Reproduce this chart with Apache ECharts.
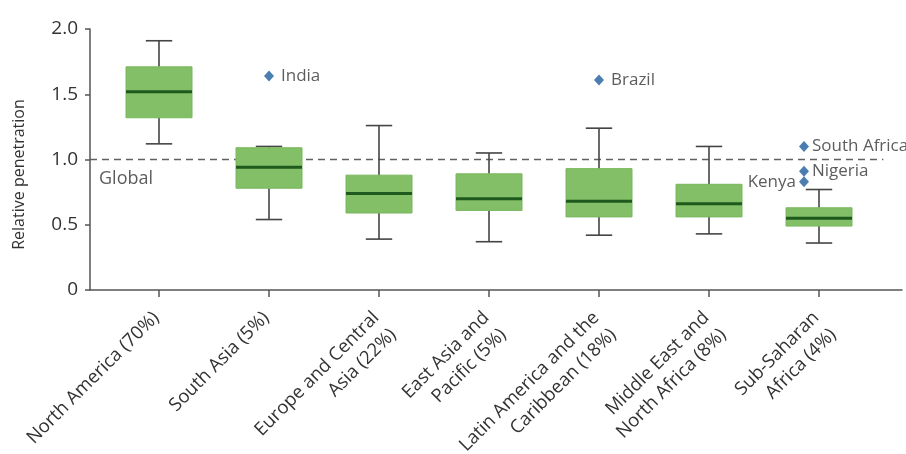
<!DOCTYPE html>
<html>
<head>
<meta charset="utf-8">
<script src="https://cdn.jsdelivr.net/npm/echarts@6/dist/echarts.min.js"></script>
<style>
  html, body { margin: 0; padding: 0; background: #ffffff; }
  #chart { width: 906px; height: 454px; }
</style>
</head>
<body>
<div id="chart"></div>
<script>
// Regions (share of population in brackets)
const regions = [
  'North America (70%)',
  'South Asia (5%)',
  'Europe and Central\nAsia (22%)',
  'East Asia and\nPacific (5%)',
  'Latin America and the\nCaribbean (18%)',
  'Middle East and\nNorth Africa (8%)',
  'Sub-Saharan\nAfrica (4%)'
];

// Box statistics per region
const whiskerLow  = [1.12, 0.54, 0.39, 0.37, 0.42, 0.43, 0.36];
const quartile1   = [1.32, 0.78, 0.59, 0.61, 0.56, 0.56, 0.49];
const median      = [1.52, 0.94, 0.74, 0.70, 0.68, 0.66, 0.55];
const quartile3   = [1.71, 1.09, 0.88, 0.89, 0.93, 0.81, 0.63];
const whiskerHigh = [1.91, 1.10, 1.26, 1.05, 1.24, 1.10, 0.77];

// Highlighted countries
const countryNames  = ['India', 'Brazil', 'South Africa', 'Nigeria', 'Kenya'];
const countryRegion = [1, 4, 6, 6, 6];
const countryValues = [1.64, 1.61, 1.10, 0.91, 0.83];

// Global reference level
const globalLevel = 1.0;
const globalLabel = 'Global';

// Y axis ticks
const yTicks = [0, 0.5, 1.0, 1.5, 2.0];

const FONT = '"Open Sans", "Noto Sans", sans-serif';
const TEXT = '#333333';
const AXIS = '#555555';
const CAT_FONT_SIZE = 18.5;
const CAT_LINE_HEIGHT = 24;

// Two-line region labels get a blank leading line so that their first line
// sits on the tick exactly where one-line labels sit.
function regionLabel(name) {
  return name.indexOf('\n') >= 0 ? ' \n' + name : name;
}

const boxData = regions.map(function (_, i) {
  return [i, whiskerLow[i], quartile1[i], median[i], quartile3[i], whiskerHigh[i]];
});

const countryData = countryNames.map(function (n, i) {
  const african = countryRegion[i] === 6;
  return {
    name: n,
    value: [countryRegion[i], countryValues[i]],
    symbolOffset: african ? [-15, 0] : [0, 0],
    label: { position: n === 'Kenya' ? 'left' : 'right', distance: african ? 3 : 7 }
  };
});

const chart = echarts.init(document.getElementById('chart'), null, { renderer: 'canvas' });

chart.setOption({
  animation: false,
  backgroundColor: '#ffffff',
  textStyle: { fontFamily: FONT },
  grid: [
    { left: 90, right: 4, top: 29, bottom: 164, containLabel: false, outerBoundsMode: 'none' },
    { left: 104, right: 32, top: 29, bottom: 164, containLabel: false, outerBoundsMode: 'none' }
  ],
  xAxis: [
    {
      gridIndex: 0, type: 'value', min: 0, max: 1,
      axisLine: { show: true, onZero: false, lineStyle: { color: AXIS, width: 1.5 } },
      axisTick: { show: false }, axisLabel: { show: false }, splitLine: { show: false }
    },
    {
      gridIndex: 1, type: 'category', data: regions, boundaryGap: true,
      axisLine: { show: false },
      axisTick: { show: true, alignWithLabel: true, length: 7, lineStyle: { color: AXIS, width: 1.5 } },
      axisLabel: {
        rotate: 45, margin: 22, fontSize: CAT_FONT_SIZE, color: TEXT, fontFamily: FONT,
        lineHeight: CAT_LINE_HEIGHT, interval: 0, padding: [0, 4, 0, 0],
        formatter: regionLabel
      },
      splitLine: { show: false }
    }
  ],
  yAxis: [
    {
      gridIndex: 0, type: 'value', min: 0, max: 2, interval: 0.5,
      name: 'Relative penetration', nameLocation: 'middle', nameRotate: 90, nameGap: 63,
      nameTextStyle: { fontSize: 16, color: TEXT, fontFamily: FONT, padding: [0, 30, 0, 0] },
      axisLine: { show: true, lineStyle: { color: AXIS, width: 1.5 } },
      axisTick: { show: true, length: 5, lineStyle: { color: AXIS, width: 1.5 } },
      axisLabel: {
        fontSize: 19, color: TEXT, margin: 12, fontFamily: FONT,
        formatter: function (v) {
          const t = yTicks.find(function (k) { return Math.abs(k - v) < 1e-9; });
          return t === 0 ? '0' : t.toFixed(1);
        }
      },
      splitLine: { show: false }
    },
    {
      gridIndex: 1, type: 'value', min: 0, max: 2, interval: 0.5, show: false
    }
  ],
  series: [
    {
      name: 'global',
      type: 'line',
      xAxisIndex: 0, yAxisIndex: 0,
      data: [[0, globalLevel], [0.977, globalLevel]],
      showSymbol: false, symbol: 'none',
      lineStyle: { color: '#606060', width: 1.5, type: [7, 5] },
      silent: true, z: 1
    },
    {
      name: 'globalLabel',
      type: 'scatter',
      xAxisIndex: 0, yAxisIndex: 0,
      data: [[0, globalLevel]],
      symbolSize: 0,
      label: {
        show: true, position: 'right', distance: 9, offset: [0, 19],
        formatter: globalLabel, fontSize: 18, color: TEXT, fontFamily: FONT
      },
      silent: true
    },
    {
      name: 'boxes',
      type: 'custom',
      xAxisIndex: 1, yAxisIndex: 1,
      data: boxData,
      encode: { x: 0, y: [1, 2, 3, 4, 5] },
      z: 3,
      renderItem: function (params, api) {
        const x = api.value(0);
        const lo = api.coord([x, api.value(1)]);
        const q1 = api.coord([x, api.value(2)]);
        const md = api.coord([x, api.value(3)]);
        const q3 = api.coord([x, api.value(4)]);
        const hi = api.coord([x, api.value(5)]);
        const band = api.size([1, 0])[0];
        const bw = band * 0.6;
        const cw = band * 0.24;
        const cx = lo[0];
        const wStyle = { stroke: '#454545', lineWidth: 1.6 };
        return {
          type: 'group',
          children: [
            { type: 'line', shape: { x1: cx, y1: q3[1], x2: cx, y2: hi[1] }, style: wStyle },
            { type: 'line', shape: { x1: cx - cw / 2, y1: hi[1], x2: cx + cw / 2, y2: hi[1] }, style: wStyle },
            { type: 'line', shape: { x1: cx, y1: q1[1], x2: cx, y2: lo[1] }, style: wStyle },
            { type: 'line', shape: { x1: cx - cw / 2, y1: lo[1], x2: cx + cw / 2, y2: lo[1] }, style: wStyle },
            { type: 'rect', shape: { x: cx - bw / 2, y: q3[1], width: bw, height: q1[1] - q3[1] },
              style: { fill: '#82bf66', stroke: '#78b65c', lineWidth: 1 } },
            { type: 'line', shape: { x1: cx - bw / 2, y1: md[1], x2: cx + bw / 2, y2: md[1] },
              style: { stroke: '#1e5a1e', lineWidth: 3 } }
          ]
        };
      }
    },
    {
      name: 'countries',
      type: 'scatter',
      xAxisIndex: 1, yAxisIndex: 1,
      data: countryData,
      symbol: 'diamond',
      symbolSize: [10, 11],
      itemStyle: { color: '#1d5c9c' },
      z: 4,
      label: {
        show: true, fontSize: 17, color: TEXT, fontFamily: FONT,
        formatter: function (p) { return p.name; }
      }
    }
  ]
});
</script>
</body>
</html>
